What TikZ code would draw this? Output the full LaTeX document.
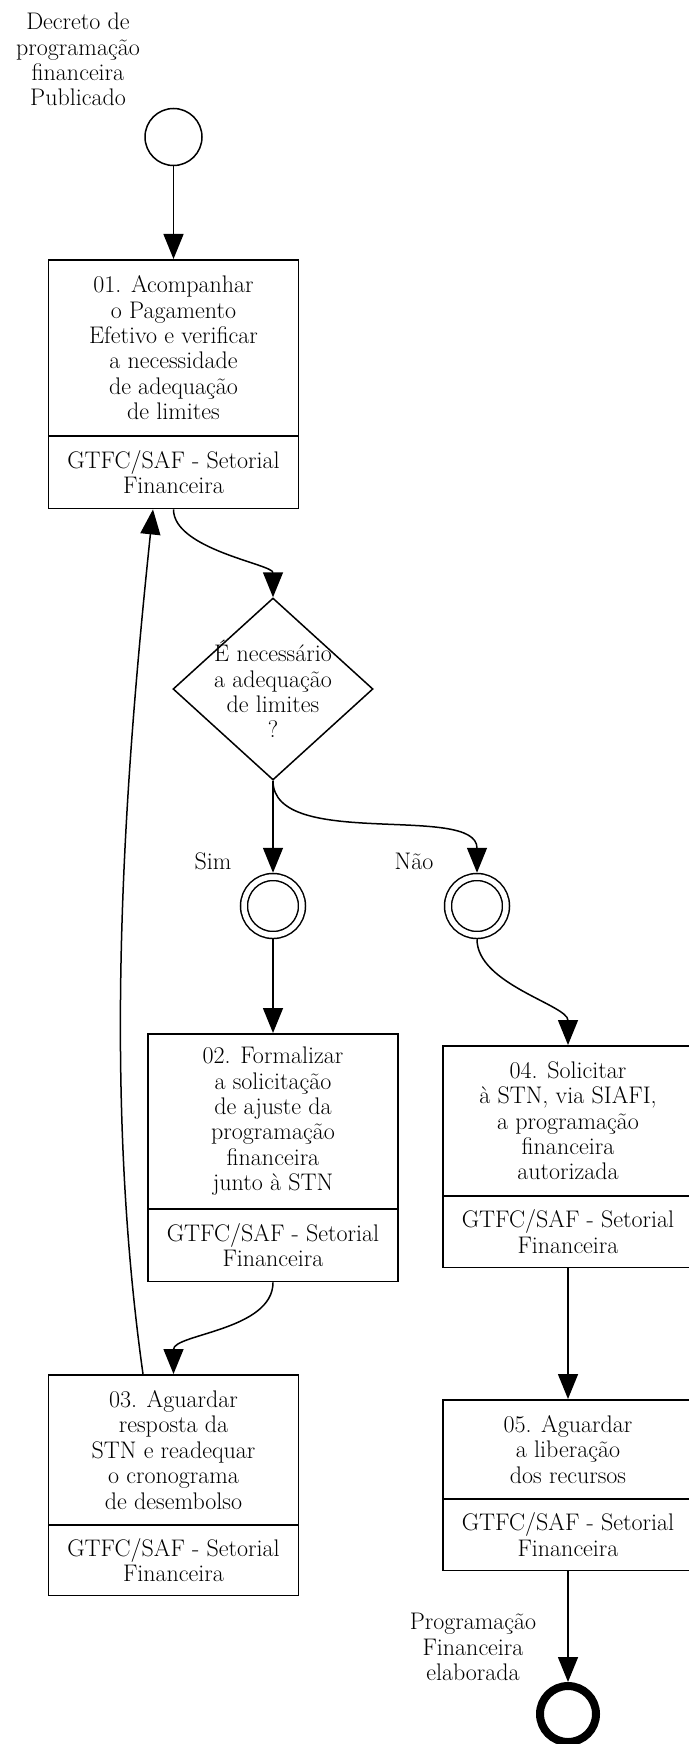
\documentclass[tikz,border=0pt]{standalone}
\usepackage{tikz}
\usetikzlibrary{arrows.meta,shapes.geometric,shapes.multipart}
\newcommand{\boxtext}[2]{\parbox[c][#1][c]{250pt}{\centering #2}}

\begin{document}
\begin{tikzpicture}[x=1pt,y=1pt,
  font=\fontsize{24pt}{25.4pt}\selectfont,
  taskbox/.style={rectangle split,rectangle split parts=2,draw,line width=1.8pt,
    inner sep=0pt,anchor=north},
  startevent/.style={circle,draw,line width=1.5pt,minimum size=57pt,inner sep=0pt},
  midevent/.style={circle,draw,double,double distance=5.5pt,line width=1.5pt,
    minimum size=58pt,inner sep=0pt,outer sep=4.25pt},
  endevent/.style={circle,draw,line width=8pt,minimum size=56pt,inner sep=0pt,outer sep=4pt},
  decision/.style={diamond,draw,line width=1.5pt,minimum width=200pt,minimum height=182pt,inner sep=0pt},
  note/.style={align=center},
  flow/.style={-{Triangle[length=25pt,width=20pt]},line width=1.5pt}]
  \useasboundingbox (0,0) rectangle (688,-1744);

  % events
  \node[note] (startlbl) at (78,-59.5) {Decreto de\\programação\\financeira\\Publicado};
  \node[startevent] (start) at (173.5,-137) {};

  % task 01
  \node[taskbox] (t1) at (173.5,-259)
    {\boxtext{174pt}{01. Acompanhar\\o Pagamento\\Efetivo e verificar\\a necessidade\\de adequação\\de limites}
     \nodepart{two}\boxtext{71pt}{GTFC/SAF - Setorial\\Financeira}};

  % gateway
  \node[decision,label={[note]center:{É necessário\\a adequação\\de limites\\?}}] (gw) at (273,-689) {};

  \node[midevent] (sim) at (273,-906) {};
  \node[midevent] (nao) at (477,-906) {};
  \node (simlbl) at (213,-861) {Sim};
  \node (naolbl) at (414,-861) {Não};

  % tasks 02 - 05
  \node[taskbox] (t2) at (273,-1033)
    {\boxtext{173pt}{02. Formalizar\\a solicitação\\de ajuste da\\programação\\financeira\\junto à STN}
     \nodepart{two}\boxtext{71pt}{GTFC/SAF - Setorial\\Financeira}};
  \node[taskbox] (t3) at (173.5,-1374)
    {\boxtext{148pt}{03. Aguardar\\resposta da\\STN e readequar\\o cronograma\\de desembolso}
     \nodepart{two}\boxtext{69pt}{GTFC/SAF - Setorial\\Financeira}};
  \node[taskbox] (t4) at (568,-1045)
    {\boxtext{148pt}{04. Solicitar\\à STN, via SIAFI,\\a programação\\financeira\\autorizada}
     \nodepart{two}\boxtext{70pt}{GTFC/SAF - Setorial\\Financeira}};
  \node[taskbox] (t5) at (568,-1399)
    {\boxtext{97pt}{05. Aguardar\\a liberação\\dos recursos}
     \nodepart{two}\boxtext{70pt}{GTFC/SAF - Setorial\\Financeira}};

  \node[note] (endlbl) at (473,-1647) {Programação\\Financeira\\elaborada};
  \node[endevent] (end) at (568,-1714) {};

  % flows
  \draw[flow] (start) -- (t1.north);
  \draw[flow] (t1.south) .. controls +(0,-40) and +(0,33) .. (gw.north);
  \draw[flow] (gw.south) -- (sim);
  \draw[flow] (gw.south) .. controls +(0,-70) and +(0,70) .. (nao.north);
  \draw[flow] (sim) -- (t2.north);
  \draw[flow] (nao.south) .. controls +(0,-45) and +(0,40) .. (t4.north);
  \draw[flow] (t2.south) .. controls +(0,-48) and +(0,40) .. (t3.north);
  \draw[flow] ([xshift=-30.5pt]t3.north) to[out=98,in=-96,looseness=0.85] ([xshift=-20.5pt]t1.south);
  \draw[flow] (t4.south) -- (t5.north);
  \draw[flow] (t5.south) -- (end);
\end{tikzpicture}
\end{document}
